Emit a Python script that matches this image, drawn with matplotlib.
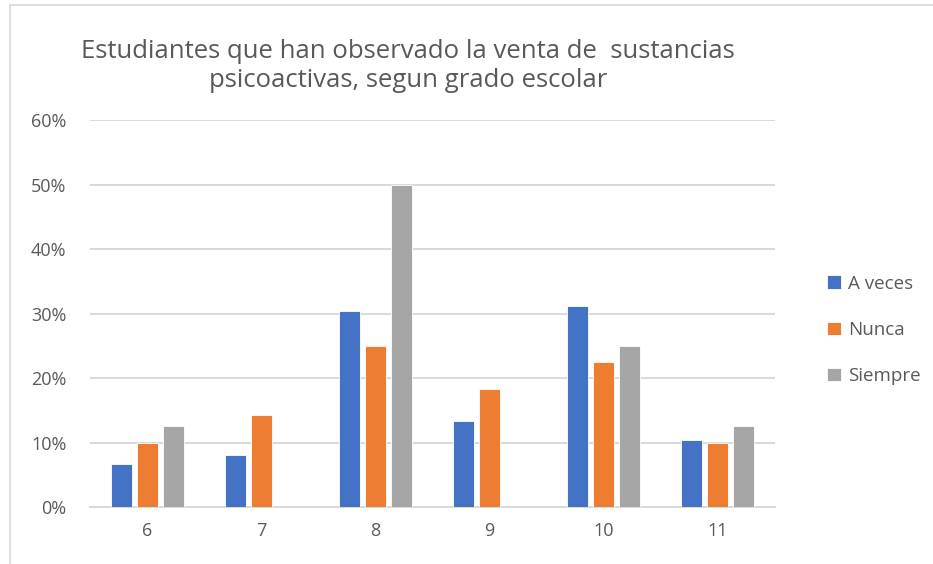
import numpy as np
import matplotlib
matplotlib.use("Agg")
import matplotlib.pyplot as plt
from matplotlib.patches import Rectangle
from matplotlib.ticker import PercentFormatter

# Data
grados = ["6", "7", "8", "9", "10", "11"]
a_veces = [6.6, 8.1, 30.4, 13.4, 31.2, 10.4]
nunca = [10.0, 14.2, 25.0, 18.3, 22.5, 10.0]
siempre = [12.5, 0.0, 50.0, 0.0, 25.0, 12.5]

series = [("A veces", a_veces, "#4472C4"),
          ("Nunca", nunca, "#ED7D31"),
          ("Siempre", siempre, "#A5A5A5")]

text_color = "#595959"
grid_color = "#D9D9D9"

plt.rcParams['font.family'] = ['Open Sans', 'DejaVu Sans']

fig = plt.figure(figsize=(9.33, 5.64), dpi=100)
ax = fig.add_axes([0.0965, 0.101, 0.734, 0.686])

# chart border
fig.patches.append(Rectangle((10 / 933, -0.01), 1.0, 1 - 5 / 564 + 0.01,
                             transform=fig.transFigure, fill=False,
                             edgecolor=grid_color, linewidth=1.2))

x = np.arange(len(grados))
step = 0.228
width = 0.185
for i, (name, vals, color) in enumerate(series):
    ax.bar(x + (i - 1) * step, vals, width, color=color, label=name,
           edgecolor="white", linewidth=0.6, zorder=3)

ax.set_xlim(-0.5, len(grados) - 0.5)
ax.set_ylim(0, 60)
ax.set_yticks(np.arange(0, 61, 10))
ax.yaxis.set_major_formatter(PercentFormatter(decimals=0))
ax.set_xticks(x)
ax.set_xticklabels(grados)
ax.tick_params(axis="y", length=0, pad=17, labelsize=13, labelcolor=text_color)
ax.tick_params(axis="x", length=0, pad=11, labelsize=13, labelcolor=text_color)
ax.grid(axis="y", color=grid_color, linewidth=1.4, zorder=0)
for side in ["top", "right", "left"]:
    ax.spines[side].set_visible(False)
ax.spines["bottom"].set_color(grid_color)
ax.spines["bottom"].set_linewidth(1.4)

fig.text(408 / 933, 1 - 66 / 564,
         "Estudiantes que han observado la venta de  sustancias\npsicoactivas, segun grado escolar",
         ha="center", va="center", fontsize=18.5, color=text_color,
         linespacing=1.25)

leg = fig.legend(loc="center left", bbox_to_anchor=(810 / 933, 1 - 330 / 564),
                 frameon=False, fontsize=13.5, labelcolor=text_color,
                 handlelength=0.75, handleheight=0.75, handletextpad=0.4,
                 labelspacing=1.5)

fig.savefig("out.png", dpi=100)
